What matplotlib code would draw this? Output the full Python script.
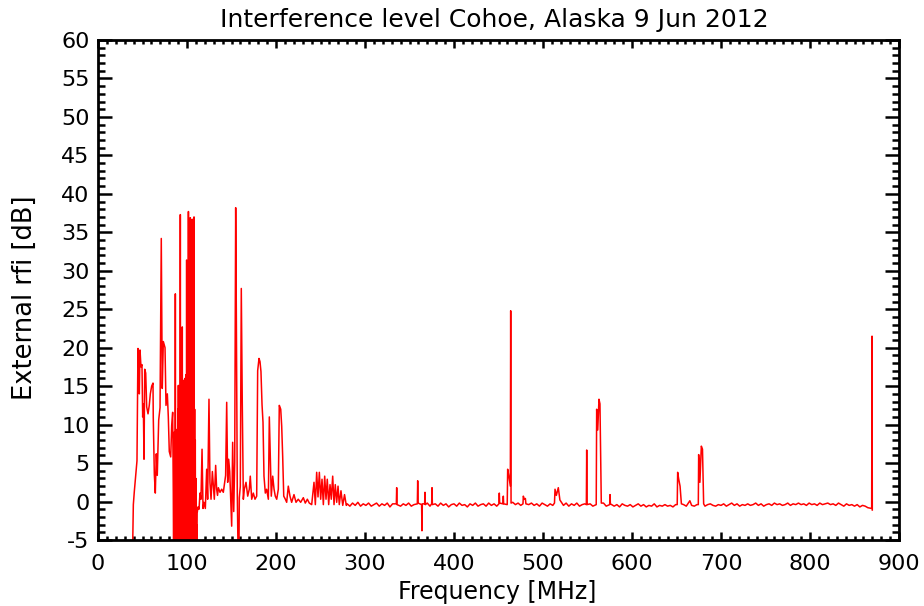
import matplotlib
matplotlib.use('Agg')
import matplotlib.pyplot as plt
import matplotlib.ticker as ticker
import numpy as np

# -------------------------- data --------------------------
# low band, up to the FM band (38-85 MHz)
low_a_freq = [38.5, 39.7, 40.8, 42.4, 43.8, 44.9, 45.5, 46.4, 47.2, 48.3, 49.4, 50.2, 50.9, 51.7,
              52.5, 53.6, 54.7, 56.2, 57.6, 58.8, 60.3, 61.8, 62.1, 63.3, 64.4, 65.5, 66.6, 68.2,
              69.7, 71.1, 72.2, 73.4, 75.3, 76.4, 77.9, 79.0, 80.1, 81.7, 82.8, 83.9, 84.6]
low_a_db = [-9.0, -0.4, 1.3, 3.4, 5.3, 19.9, 19.0, 14.0, 19.7, 17.5, 17.8, 11.0, 12.7, 5.5,
            17.2, 16.7, 12.3, 11.4, 12.5, 14.0, 15.0, 15.4, 10.9, 3.5, 1.1, 6.2, 3.4, 10.6,
            12.2, 34.2, 14.7, 20.8, 20.0, 12.5, 14.0, 11.0, 6.5, 5.8, 9.9, 11.6, 1.1]

# FM band (85-111 MHz): saturated, the trace swings below the axis between stations
fm_peak_freq = [85.4, 86.2, 86.9, 87.6, 88.3, 89.0, 89.7, 90.3, 91.0, 91.7, 92.5, 93.2, 93.9,
                94.7, 95.4, 96.1, 96.8, 97.5, 98.2, 98.9, 99.6, 100.3, 101.0, 101.6, 102.3,
                103.0, 103.7, 104.4, 105.1, 105.8, 106.5, 107.2, 107.9, 108.6, 109.3, 110.0, 110.7]
fm_peak_db = [9.0, 6.0, 27.0, 8.0, 9.0, 9.4, 12.0, 15.1, 13.0, 14.0, 37.3, 14.0, 16.0,
              22.7, 15.0, 14.5, 15.8, 16.0, 15.0, 16.5, 31.4, 14.0, 15.5, 37.7, 13.3,
              16.0, 36.9, 15.0, 14.0, 36.7, 14.0, 15.0, 37.0, 12.0, 8.0, 3.0, -3.0]
fm_dip_freq = [85.0, 85.8, 86.55, 87.25, 87.95, 88.65, 89.35, 90.0, 90.65, 91.35, 92.1, 92.85,
               93.55, 94.3, 95.05, 95.75, 96.45, 97.15, 97.85, 98.55, 99.25, 99.95, 100.65,
               101.3, 101.95, 102.65, 103.35, 104.05, 104.75, 105.45, 106.15, 106.85, 107.55,
               108.25, 108.95, 109.65, 110.35, 111.0]
fm_dip_db = [-9.0, -9.0, -9.0, -9.0, -9.0, -9.0, -9.0, -9.0, -9.0, -9.0, -9.0, -9.0,
             -9.0, -9.0, -9.0, -9.0, -9.0, -9.0, -9.0, -9.0, -9.0, -9.0, -9.0,
             -9.0, -9.0, -9.0, -9.0, -9.0, -9.0, -9.0, -9.0, -9.0, -9.0,
             -9.0, -9.0, -9.0, -9.0, -9.0]

# low band above FM (111-280 MHz)
low_b_freq = [111.4, 112.4, 113.5, 114.6, 115.7,
              116.9, 118.0, 119.1, 120.6, 122.1, 123.2, 124.7, 125.8, 127.0, 128.5, 129.6, 130.7,
              132.2, 133.3, 134.3, 135.2, 137.1, 139.0, 140.8, 141.9, 143.4, 144.6, 145.7, 146.8,
              148.0, 149.1, 150.2, 151.3, 152.5, 153.6, 154.7, 155.4, 156.5, 157.6, 158.2, 158.8,
              159.9, 161.0, 162.1, 163.3, 164.4, 166.3, 168.2, 170.0, 171.1, 172.7, 174.5, 176.4,
              178.3, 179.4, 180.9, 182.0, 183.1, 184.3, 185.4, 186.5, 188.0, 189.5, 191.4, 192.5,
              193.6, 194.7, 196.3, 197.8, 199.2, 200.8, 202.6, 203.7, 205.3, 206.4, 207.5, 208.7,
              210.5, 212.0, 213.8, 215.7, 217.6, 220.2, 222.5, 225.0, 227.7, 230.7, 232.9, 235.2,
              237.4, 240.1, 242.7, 244.2, 245.7, 247.2, 248.7, 250.2, 251.7, 253.2, 254.7, 256.2,
              257.6, 259.2, 260.7, 262.1, 263.7, 265.2, 266.6, 268.2, 269.7, 271.1, 273.0, 275.0,
              277.0, 279.0]
low_b_db = [-1.5, -0.7, -1.0, 1.1, 0.3,
            6.8, -0.9, -0.1, -0.9, 4.2, 0.3, 13.3, 2.5, 0.3, 3.9, 2.1, 0.3,
            4.7, 1.6, 0.8, 1.8, 1.2, 1.6, 1.2, 2.1, 3.4, 12.9, 2.5, 5.5,
            3.9, 0.3, -3.2, 7.7, -1.3, 5.1, 38.2, 25.0, 1.3, -9.0, -9.0, 0.5,
            2.0, 27.7, 12.9, 0.3, 1.6, 2.5, 0.7, 1.6, 3.3, 0.3, 1.1, 0.3,
            0.7, 17.0, 18.6, 18.2, 16.9, 12.6, 10.3, 3.3, 1.1, 1.6, 0.3, 11.0,
            5.9, 0.7, 3.3, 1.6, 0.7, 0.3, 1.6, 12.5, 12.0, 9.8, 5.9, 0.7,
            0.3, -0.1, 2.0, 0.7, -0.1, 0.9, -0.1, 0.3, -0.1, 0.5, -0.2, 0.3,
            -0.2, -0.4, 2.5, -0.4, 3.8, 0.6, 3.8, 0.3, 2.9, -0.4, 3.3, 0.3,
            2.9, -0.4, 2.2, 0.3, 3.3, -0.4, 2.2, -0.1, 2.0, -0.4, 1.4, -0.5,
            0.9, -0.5]

# high band (280-868 MHz): noise floor read every 3 MHz
hf_start, hf_step = 280.0, 3.0
hf_floor_db = [
    -0.3, -0.6, -0.2, -0.5, -0.1, -0.6, -0.3, -0.5, -0.2, -0.6,
    -0.4, -0.2, -0.6, -0.3, -0.5, -0.2, -0.7, -0.3, -0.5, -0.2,
    -0.6, -0.3, -0.5, -0.2, -0.6, -0.4, -0.2, -0.6, -0.3, -0.5,
    -0.2, -0.6, -0.4, -0.3, -0.6, -0.2, -0.5, -0.3, -0.7, -0.4,
    -0.3, -0.6, -0.2, -0.5, -0.4, -0.7, -0.3, -0.5, -0.2, -0.6,
    -0.4, -0.3, -0.6, -0.2, -0.5, -0.3, -0.6, -0.1, -0.4, -0.2,
    -0.3, -0.5, -0.1, -0.4, -0.2, -0.5, 0.3, -0.1, -0.4, -0.2,
    -0.5, -0.3, -0.6, -0.2, -0.4, -0.6, -0.3, -0.5, -0.2, 0.1,
    -0.3, -0.5, -0.2, -0.6, -0.3, -0.5, -0.2, -0.6, -0.4, -0.3,
    -0.5, -0.3, -0.6, -0.4, -0.5, -0.3, -0.2, -0.6, -0.4, -0.3,
    -0.6, -0.4, -0.7, -0.3, -0.5, -0.6, -0.4, -0.7, -0.5, -0.3,
    -0.6, -0.4, -0.7, -0.5, -0.6, -0.3, -0.7, -0.5, -0.6, -0.4,
    -0.6, -0.5, -0.7, -0.4, -0.6, -0.5, -0.4, -0.6, -0.3, -0.5,
    -0.6, -0.4, -0.5, -0.3, -0.6, -0.4, -0.3, -0.5, -0.6, -0.4,
    -0.5, -0.3, -0.6, -0.4, -0.2, -0.5, -0.3, -0.6, -0.4, -0.5,
    -0.3, -0.5, -0.4, -0.2, -0.5, -0.3, -0.6, -0.4, -0.3, -0.5,
    -0.2, -0.4, -0.3, -0.5, -0.4, -0.2, -0.5, -0.3, -0.4, -0.2,
    -0.4, -0.3, -0.5, -0.2, -0.4, -0.3, -0.5, -0.2, -0.4, -0.3,
    -0.2, -0.4, -0.3, -0.5, -0.2, -0.4, -0.6, -0.3, -0.5, -0.4,
    -0.6, -0.4, -0.7, -0.5, -0.6, -0.8, -0.9]

# high band interferers (with the floor just either side of each line)
hf_line_freq = [335.2, 335.6, 336.0,
                358.8, 359.2, 359.6, 363.6, 364.0, 364.4, 367.0, 367.4, 367.8, 374.9, 375.3, 375.7,
                450.5, 450.9, 451.3, 455.0, 455.4, 455.8,
                459.8, 460.3, 461.5, 463.3, 463.7, 464.1,
                477.5, 477.9, 479.0, 480.2, 480.8,
                512.9, 513.5, 515.0, 517.2, 519.0,
                548.7, 549.1, 549.5,
                559.8, 560.3, 561.5, 562.9, 564.0, 565.5,
                574.9, 575.3, 575.7,
                650.8, 651.3, 652.5, 654.0, 655.5, 665.0,
                674.5, 674.9, 676.3, 677.9, 679.2, 680.5,
                869.3, 869.7, 870.0]
hf_line_db = [-0.3, 1.8, -0.4,
              -0.3, 2.7, -0.2, -0.4, -3.8, -0.3, -0.3, 1.2, -0.4, -0.3, 1.8, -0.4,
              -0.3, 1.1, -0.2, -0.3, 0.7, -0.3,
              -0.4, 4.2, 3.4, 2.0, 24.8, -0.2,
              -0.3, 0.7, 0.3, 0.4, -0.3,
              -0.2, 1.6, 0.8, 1.8, 0.2,
              -0.4, 6.7, -0.4,
              -0.4, 12.0, 9.3, 13.3, 12.7, -0.2,
              -0.4, 0.9, -0.3,
              -0.4, 3.8, 2.9, 2.0, -0.3, 0.1,
              -0.4, 6.1, 2.5, 7.2, 6.8, -0.3,
              -0.9, 21.5, -1.1]

title = 'Interference level Cohoe, Alaska 9 Jun 2012'
xlabel = 'Frequency [MHz]'
ylabel = 'External rfi [dB]'

# -------------------------- assemble spectrum --------------------------
hf_freq = hf_start + hf_step * np.arange(len(hf_floor_db))
hf_db = np.array(hf_floor_db)
near = np.min(np.abs(hf_freq[:, None] - np.array(hf_line_freq)[None, :]), axis=1) < 1.5
f_all = np.concatenate([low_a_freq, fm_peak_freq, fm_dip_freq, low_b_freq, hf_freq[~near], hf_line_freq])
d_all = np.concatenate([low_a_db, fm_peak_db, fm_dip_db, low_b_db, hf_db[~near], hf_line_db])
order = np.argsort(f_all, kind='stable')
f_all, d_all = f_all[order], d_all[order]

# -------------------------- drawing --------------------------
plt.rcParams['font.family'] = ['DejaVu Sans']
fig = plt.figure(figsize=(9.24, 6.06), dpi=100)
ax = fig.add_axes([98/924, 1-540/606, 801/924, 500/606])

ax.plot(f_all, d_all, color='#ff0000', linewidth=1.1, antialiased=True)

ax.set_xlim(0, 900)
ax.set_ylim(-5, 60)
ax.xaxis.set_major_locator(ticker.MultipleLocator(100))
ax.xaxis.set_minor_locator(ticker.MultipleLocator(10))
ax.yaxis.set_major_locator(ticker.MultipleLocator(5))
ax.yaxis.set_minor_locator(ticker.MultipleLocator(1))

for s in ax.spines.values():
    s.set_linewidth(2.0)

ax.tick_params(axis='both', which='both', direction='in', top=True, right=True, width=1.8, labelsize=16)
ax.tick_params(axis='x', which='major', length=6, pad=10)
ax.tick_params(axis='x', which='minor', length=3)
ax.tick_params(axis='y', which='major', length=10, pad=6)
ax.tick_params(axis='y', which='minor', length=5)
ax.yaxis.set_major_formatter(ticker.FuncFormatter(lambda v, p: '%d' % v))

fig.text(494/924, 1-20/606, title, ha='center', va='center', fontsize=18)
fig.text(497/924, 1-592/606, xlabel, ha='center', va='center', fontsize=17)
fig.text(25/924, 1-298/606, ylabel, ha='center', va='center', rotation=90, fontsize=18.5)

plt.savefig('out.png', dpi=100)
